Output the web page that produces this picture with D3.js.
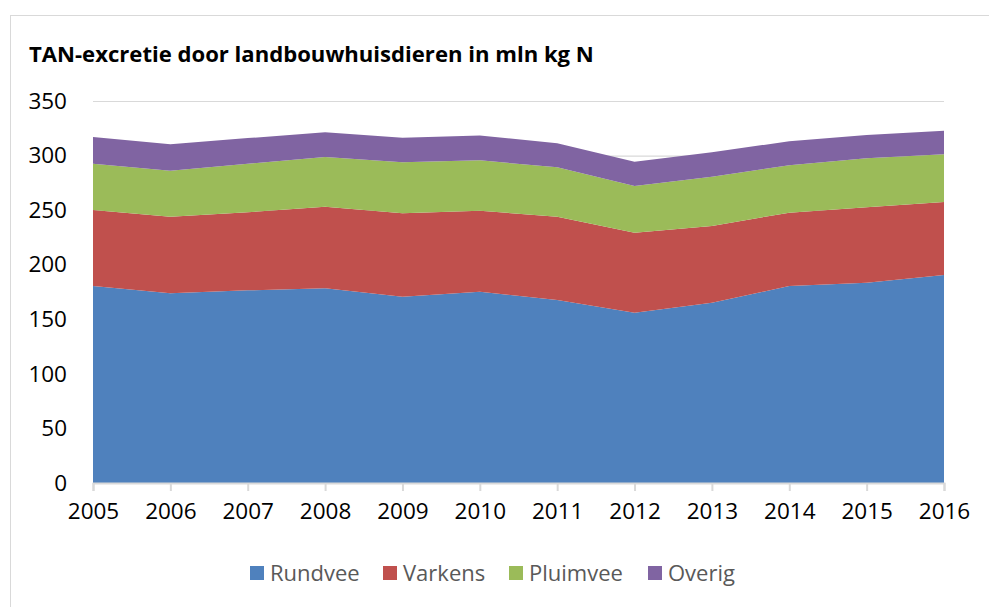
<!DOCTYPE html>
<html><head><meta charset="utf-8">
<script src="https://cdn.jsdelivr.net/npm/d3@7"></script>
<style>body{margin:0;background:#fff}svg{display:block}text{font-family:"Open Sans",sans-serif}</style>
</head><body><svg id="c" width="989" height="607"></svg>
<script>
const years = [2005,2006,2007,2008,2009,2010,2011,2012,2013,2014,2015,2016];
const seriesNames = ["Rundvee","Varkens","Pluimvee","Overig"];
const rundvee  = [180.5,173.8,176.5,178.4,170.7,175.3,167.7,156.0,165.2,180.5,183.5,190.6];
const varkens  = [69.6,70.2,71.5,74.8,76.4,74.2,76.3,73.3,70.3,67.2,69.1,66.9];
const pluimvee = [42.5,42.2,44.5,45.5,46.7,46.1,45.2,42.8,45.2,43.4,44.9,43.6];
const overig   = [24.4,24.1,23.5,22.6,22.6,22.9,22.0,22.3,22.3,22.0,21.4,21.7];
const yTicks = [0,50,100,150,200,250,300,350];
const colors = ["#4F81BD","#C0504D","#9BBB59","#8064A2"];
const title = "TAN-excretie door landbouwhuisdieren in mln kg N";

const svg = d3.select("#c");
svg.append("rect").attr("x",10.5).attr("y",15.5).attr("width",1000).attr("height",700)
  .attr("fill","#fff").attr("stroke","#d9d9d9").attr("stroke-width",1);

const x = d3.scaleLinear().domain([2005,2016]).range([93,944]);
const y = d3.scaleLinear().domain([0,350]).range([483,101]);

const table = years.map((yr,i)=>({year:yr,Rundvee:rundvee[i],Varkens:varkens[i],Pluimvee:pluimvee[i],Overig:overig[i]}));
const stacked = d3.stack().keys(seriesNames)(table);

// gridlines
svg.append("g").selectAll("line").data(yTicks.filter(d=>d>0)).join("line")
  .attr("x1",93).attr("x2",944).attr("y1",d=>y(d)+0.5).attr("y2",d=>y(d)+0.5)
  .attr("stroke","#d9d9d9").attr("stroke-width",1.2);

const area = d3.area().x(d=>x(d.data.year)).y0(d=>y(d[0])).y1(d=>y(d[1]));
svg.append("g").selectAll("path").data(stacked).join("path")
  .attr("d",area).attr("fill",(d,i)=>colors[i]);

// x axis
const xa = svg.append("g").attr("transform","translate(0,483)")
  .call(d3.axisBottom(x).tickValues(years).tickFormat(d3.format("d")).tickSize(8).tickPadding(12));
xa.select(".domain").attr("stroke","#d9d9d9").attr("stroke-width",2);
xa.selectAll(".tick line").attr("stroke","#d9d9d9").attr("stroke-width",2);
xa.selectAll("text").attr("font-size",22.5).attr("fill","#000").attr("font-family","Open Sans");

// y axis labels
const ya = svg.append("g").attr("transform","translate(93,0)")
  .call(d3.axisLeft(y).tickValues(yTicks).tickSize(0).tickPadding(26));
ya.select(".domain").remove();
ya.selectAll("text").attr("font-size",22.5).attr("fill","#000").attr("font-family","Open Sans");

// title
const t = svg.append("text").attr("x",29).attr("y",62).attr("font-weight","bold")
  .attr("font-size",20).attr("fill","#000").text(title);
const w = t.node().getComputedTextLength();
t.attr("font-size",20*565/w);

// legend
const legX = [250,383,509,648];
const lg = svg.append("g").selectAll("g").data(seriesNames).join("g")
  .attr("transform",(d,i)=>`translate(${legX[i]},566)`);
lg.append("rect").attr("width",14).attr("height",14).attr("fill",(d,i)=>colors[i]);
lg.append("text").attr("x",20).attr("y",7).attr("dy","0.36em").attr("font-size",22)
  .attr("fill","#595959").text(d=>d);
</script></body></html>
